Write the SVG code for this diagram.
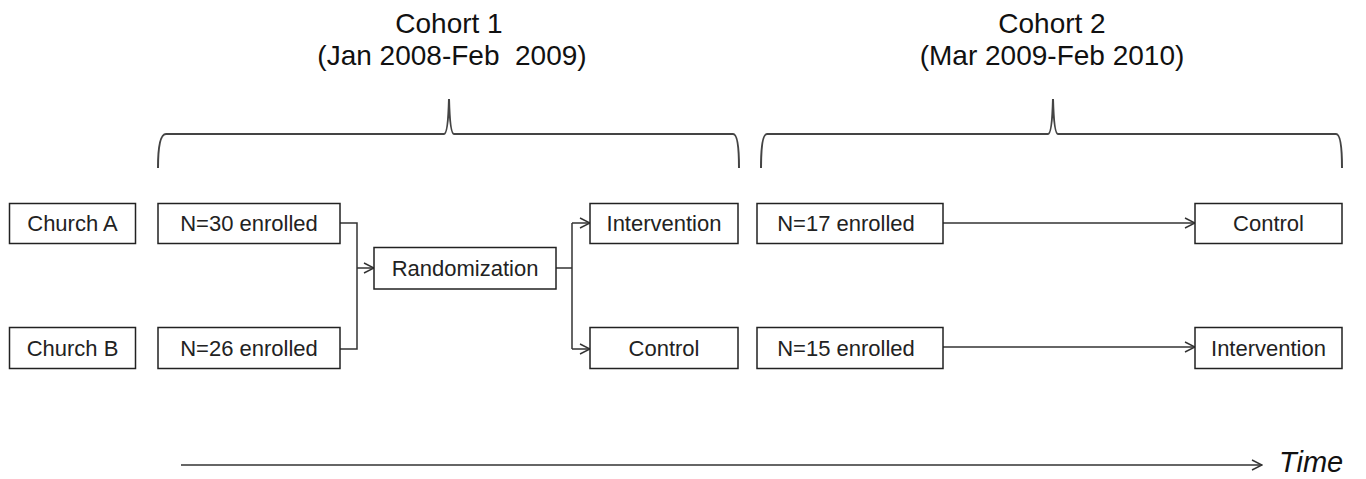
<svg xmlns="http://www.w3.org/2000/svg" width="1366" height="479" viewBox="0 0 1366 479">
<style>
.box{fill:#fff;stroke:#222;stroke-width:1.5}
.lbl{font-family:"Liberation Sans",Arial,sans-serif;font-size:22px;fill:#222;text-anchor:middle}
.title{font-family:"Liberation Sans",Arial,sans-serif;font-size:28px;fill:#111;text-anchor:middle}
.conn{fill:none;stroke:#333;stroke-width:1.5}
.brace{fill:none;stroke:#444;stroke-width:2}
</style>
<defs>
<marker id="arr" viewBox="0 0 12 12" refX="11" refY="6" markerWidth="12" markerHeight="12" markerUnits="userSpaceOnUse" orient="auto">
<path d="M1,1 L11,6 L1,11" fill="none" stroke="#333" stroke-width="1.4"/>
</marker>
</defs>
<g id="titles">
<text class="title" x="449" y="33">Cohort 1</text>
<text class="title" x="452" y="65">(Jan 2008-Feb&#160; 2009)</text>
<text class="title" x="1052" y="33">Cohort 2</text>
<text class="title" x="1052" y="65">(Mar 2009-Feb 2010)</text>
</g>
<g id="braces">
<path class="brace" d="M158,168 Q158,134 166,134 L444,134 Q448,134 449,99 Q450,134 454,134 L733,134 Q739,134 739,168"/>
<path class="brace" d="M761,168 Q761,134 767,134 L1048,134 Q1052,134 1053,99 Q1054,134 1058,134 L1336,134 Q1342,134 1342,168"/>
</g>
<g id="connectors">
<path class="conn" d="M340,223 H357 V349 H340"/>
<path class="conn" d="M357,268 H374" marker-end="url(#arr)"/>
<path class="conn" d="M556,268 H572"/>
<path class="conn" d="M572,223 V349"/>
<path class="conn" d="M572,223 H590" marker-end="url(#arr)"/>
<path class="conn" d="M572,349 H590" marker-end="url(#arr)"/>
<path class="conn" d="M943,223 H1195" marker-end="url(#arr)"/>
<path class="conn" d="M943,347 H1195" marker-end="url(#arr)"/>
<path class="conn" d="M181,465 H1262" marker-end="url(#arr)"/>
</g>
<g id="churchA"><rect class="box" x="9.5" y="203.5" width="126" height="40"/><text class="lbl" x="72.5" y="231">Church A</text></g>
<g id="churchB"><rect class="box" x="9.5" y="327.5" width="126" height="41"/><text class="lbl" x="72.5" y="356">Church B</text></g>
<g id="n30"><rect class="box" x="158" y="203.5" width="182" height="40"/><text class="lbl" x="249" y="231">N=30 enrolled</text></g>
<g id="n26"><rect class="box" x="158" y="327.5" width="182" height="41"/><text class="lbl" x="249" y="356">N=26 enrolled</text></g>
<g id="randomization"><rect class="box" x="374" y="247.5" width="182" height="41.5"/><text class="lbl" x="465" y="276">Randomization</text></g>
<g id="intervention1"><rect class="box" x="590" y="203.5" width="148" height="40"/><text class="lbl" x="664" y="231">Intervention</text></g>
<g id="control1"><rect class="box" x="590" y="327.5" width="148" height="41"/><text class="lbl" x="664" y="356">Control</text></g>
<g id="n17"><rect class="box" x="757" y="203.5" width="186" height="40"/><text class="lbl" x="846" y="231">N=17 enrolled</text></g>
<g id="n15"><rect class="box" x="757" y="327.5" width="186" height="41"/><text class="lbl" x="846" y="356">N=15 enrolled</text></g>
<g id="control2"><rect class="box" x="1195" y="203.5" width="147" height="40"/><text class="lbl" x="1268.5" y="231">Control</text></g>
<g id="intervention2"><rect class="box" x="1195" y="327.5" width="147" height="41"/><text class="lbl" x="1268.5" y="356">Intervention</text></g>
<g id="time"><text x="1279" y="472" font-family="'Liberation Sans',Arial,sans-serif" font-size="29" font-style="italic" fill="#111">Time</text></g>
</svg>
